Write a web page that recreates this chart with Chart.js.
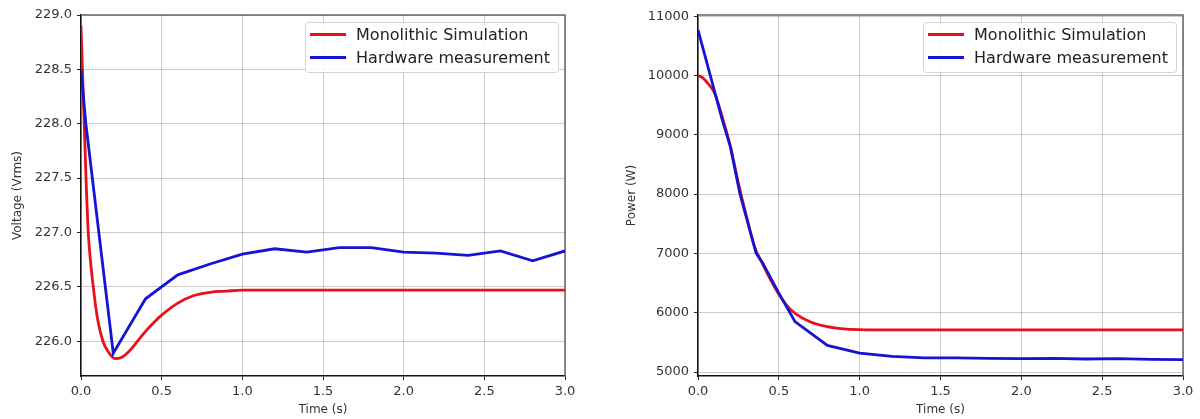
<html>
<head>
    <meta charset="utf-8">
    <title>Voltage and power response</title>
    <script src="https://cdn.jsdelivr.net/npm/chart.js@4.4.1/dist/chart.umd.min.js"></script>
    <style type="text/css">
        body { margin: 0; background: #fff; }
        .panel { position: absolute; top: 0; width: 600px; height: 419px; }
    </style>
</head>
<body>
<div class="panel" style="left:0"><canvas id="voltChart" width="600" height="419"></canvas></div>
<div class="panel" style="left:600px"><canvas id="powerChart" width="600" height="419"></canvas></div>

<script>
    // series
    var timeTicks = [0, 0.5, 1.0, 1.5, 2.0, 2.5, 3.0];
    var voltTicks = [226.0, 226.5, 227.0, 227.5, 228.0, 228.5, 229.0];
    var powerTicks = [5000, 6000, 7000, 8000, 9000, 10000, 11000];

    var simVoltTime = [0, 0.01, 0.02, 0.031, 0.045, 0.06, 0.076, 0.1, 0.136, 0.17, 0.21, 0.25, 0.3, 0.35, 0.4, 0.45, 0.5, 0.6, 0.7, 0.8, 0.9, 1.0, 1.5, 2.0, 2.5, 3.0];
    var simVolt = [228.9, 228.45, 228.0, 227.5, 227.0, 226.72, 226.5, 226.23, 226.0, 225.9, 225.84, 225.85, 225.91, 226.0, 226.09, 226.17, 226.24, 226.35, 226.42, 226.45, 226.46, 226.47, 226.47, 226.47, 226.47, 226.47];

    var hwVoltTime = [0, 0.03, 0.2, 0.4, 0.6, 0.8, 1.0, 1.2, 1.4, 1.6, 1.8, 2.0, 2.2, 2.4, 2.6, 2.8, 3.0];
    var hwVolt = [228.5, 228.0, 225.89, 226.39, 226.61, 226.71, 226.8, 226.85, 226.82, 226.86, 226.86, 226.82, 226.81, 226.79, 226.83, 226.74, 226.83];

    var simPowerTime = [0, 0.03, 0.06, 0.1, 0.12, 0.15, 0.2, 0.25, 0.3, 0.35, 0.4, 0.45, 0.5, 0.55, 0.6, 0.7, 0.8, 0.9, 1.0, 1.2, 1.5, 2.0, 2.5, 3.0];
    var simPower = [10000, 9960, 9870, 9720, 9570, 9300, 8810, 8180, 7620, 7110, 6820, 6550, 6310, 6120, 5990, 5840, 5765, 5728, 5715, 5710, 5710, 5710, 5710, 5710];

    var hwPowerTime = [0, 0.15, 0.2, 0.26, 0.3, 0.36, 0.4, 0.5, 0.6, 0.8, 1.0, 1.2, 1.4, 1.6, 1.8, 2.0, 2.2, 2.4, 2.6, 2.8, 3.0];
    var hwPower = [10770, 9250, 8800, 8000, 7600, 7000, 6840, 6330, 5850, 5450, 5320, 5265, 5240, 5240, 5230, 5225, 5230, 5220, 5225, 5215, 5210];

    var labels = ['Monolithic Simulation', 'Hardware measurement'];
    var colours = ['#e8101a', '#1414d2'];
    var fontFamily = '"DejaVu Sans", sans-serif';

    function toPoints(xs, ys) {
        return xs.map(function(x, i) { return {x: x, y: ys[i]}; });
    }

    // legend box in the top right corner of the plot, matplotlib style
    var boxLegend = {
        id: 'boxLegend',
        afterDatasetsDraw: function(chart) {
            var ctx = chart.ctx, area = chart.chartArea;
            ctx.save();
            ctx.font = '16px ' + fontFamily;
            var widest = 0;
            chart.data.datasets.forEach(function(ds) {
                widest = Math.max(widest, ctx.measureText(ds.label).width);
            });
            var w = 5 + 36 + 10 + widest + 8;
            var h = 50;
            var x0 = area.right - 7 - w, y0 = area.top + 7;
            ctx.fillStyle = 'rgba(255,255,255,0.85)';
            ctx.strokeStyle = '#d4d4d4';
            ctx.lineWidth = 1;
            ctx.beginPath();
            ctx.roundRect(x0 + 0.5, y0 + 0.5, w, h, 3);
            ctx.fill();
            ctx.stroke();
            chart.data.datasets.forEach(function(ds, i) {
                var y = y0 + 12.5 + i * 23;
                ctx.strokeStyle = ds.borderColor;
                ctx.lineWidth = 3;
                ctx.beginPath();
                ctx.moveTo(x0 + 5, y);
                ctx.lineTo(x0 + 41, y);
                ctx.stroke();
                ctx.fillStyle = '#222';
                ctx.textBaseline = 'middle';
                ctx.fillText(ds.label, x0 + 51, y + 1);
            });
            ctx.restore();
        }
    };

    // grey frame on top and right like the matplotlib spines
    var frame = {
        id: 'frame',
        beforeDatasetsDraw: function(chart) {
            var ctx = chart.ctx, a = chart.chartArea;
            ctx.save();
            ctx.strokeStyle = '#666';
            ctx.lineWidth = 1.5;
            ctx.beginPath();
            ctx.moveTo(a.left, a.top);
            ctx.lineTo(a.right, a.top);
            ctx.lineTo(a.right, a.bottom);
            ctx.stroke();
            ctx.restore();
        }
    };

    function makeChart(id, simT, simY, hwT, hwY, yTicks, yMin, yMax, yTitle, yWidth, yTitlePad, rightPad, yDigits) {
        var ctx = document.getElementById(id).getContext('2d');
        return new Chart(ctx, {
            type: 'line',
            data: {
                datasets: [{
                    label: labels[0],
                    data: toPoints(simT, simY),
                    borderColor: colours[0],
                    borderWidth: 2.8,
                    pointRadius: 0,
                    cubicInterpolationMode: 'monotone',
                    order: 2
                }, {
                    label: labels[1],
                    data: toPoints(hwT, hwY),
                    borderColor: colours[1],
                    borderWidth: 2.8,
                    pointRadius: 0,
                    tension: 0,
                    order: 1
                }]
            },
            options: {
                responsive: false,
                animation: false,
                layout: { padding: { left: 0, top: 15, right: rightPad, bottom: 0 } },
                plugins: { legend: { display: false }, tooltip: { enabled: false } },
                scales: {
                    x: {
                        type: 'linear',
                        min: 0,
                        max: 3,
                        afterFit: function(s) { s.height = 43; },
                        afterBuildTicks: function(s) { s.ticks = timeTicks.map(function(v) { return {value: v}; }); },
                        grid: { color: 'rgba(0,0,0,0.2)', lineWidth: 1, tickLength: 4, tickColor: '#222' },
                        border: { color: '#111', width: 1.5 },
                        ticks: {
                            color: '#333', padding: 4, maxRotation: 0,
                            font: { family: fontFamily, size: 13 },
                            callback: function(v) { return Number(v).toFixed(1); }
                        },
                        title: {
                            display: true, text: 'Time (s)', color: '#333',
                            font: { family: fontFamily, size: 12 },
                            padding: { top: 0, bottom: 2 }
                        }
                    },
                    y: {
                        type: 'linear',
                        min: yMin,
                        max: yMax,
                        afterFit: function(s) { s.width = yWidth; },
                        afterBuildTicks: function(s) { s.ticks = yTicks.map(function(v) { return {value: v}; }); },
                        grid: { color: 'rgba(0,0,0,0.2)', lineWidth: 1, tickLength: 4, tickColor: '#222' },
                        border: { color: '#111', width: 1.5 },
                        ticks: {
                            color: '#333', padding: 5,
                            font: { family: fontFamily, size: 13 },
                            callback: function(v) { return Number(v).toFixed(yDigits); }
                        },
                        title: {
                            display: true, text: yTitle, color: '#333',
                            font: { family: fontFamily, size: 12 },
                            padding: { top: yTitlePad, bottom: 0 }
                        }
                    }
                }
            },
            plugins: [frame, boxLegend]
        });
    }

    makeChart('voltChart', simVoltTime, simVolt, hwVoltTime, hwVolt, voltTicks, 225.68, 229.0, 'Voltage (Vrms)', 81, 11, 35, 1);
    makeChart('powerChart', simPowerTime, simPower, hwPowerTime, hwPower, powerTicks, 4933, 11020, 'Power (W)', 98, 25, 17, 0);
</script>
</body>
</html>
